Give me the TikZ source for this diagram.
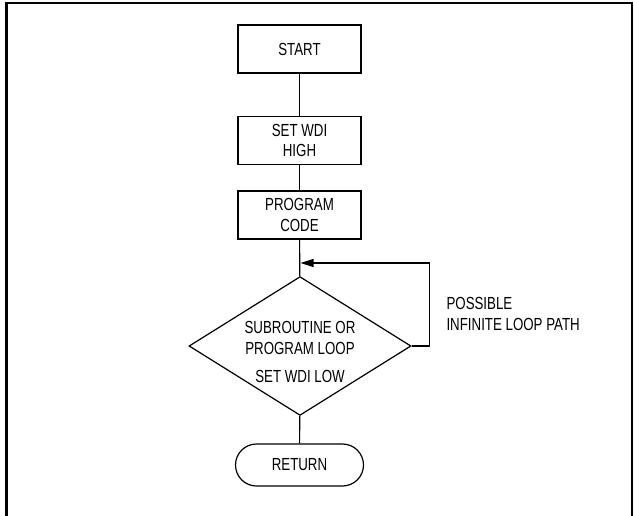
\documentclass[tikz,border=0pt]{standalone}
\usepackage{fontspec}
\setmainfont[FakeStretch=0.76]{Liberation Sans}
\usetikzlibrary{shapes.geometric,shapes.misc,arrows.meta}
\tikzset{
  stepbox/.style={draw, line width=1.2pt, minimum width=123pt, minimum height=48pt, inner sep=0pt, align=center},
  loopbox/.style={draw, diamond, line width=1.2pt, shape aspect=1.6, minimum width=221pt, minimum height=138pt, inner sep=0pt, align=center},
  endbox/.style={draw, rounded rectangle, line width=1.2pt, minimum width=128pt, minimum height=42pt, inner sep=0pt},
  flow/.style={line width=1.2pt}
}
\begin{document}
\begin{tikzpicture}[x=1pt, y=-1pt, font=\fontsize{17.5}{20.5}\selectfont]
		%%%%% START %%%%%
		\useasboundingbox (0, 0) rectangle (634, 516);
		
		\draw[line width=2.5pt] (6.5, 516) -- (6.5, 3) -- (632, 3) -- (632, 516);
		
		\node[stepbox] (start) at (299.5, 49) {START};
		\node[stepbox] (sethigh) at (299.5, 140.5) {SET WDI\\HIGH};
		\node[stepbox] (code) at (299.5, 215) {PROGRAM\\CODE};
		
		\node[loopbox] (loop) at (300, 346) {\raisebox{-8pt}[\height][\depth]{\begin{tabular}{@{}c@{}}SUBROUTINE OR\\PROGRAM LOOP\\[8pt]SET WDI LOW\end{tabular}}};
		
		\node[endbox] (return) at (299.5, 465) {RETURN};
		
		\coordinate (join) at (code.south |- 0, 263);
		
		\draw[flow] (start) -- (sethigh);
		\draw[flow] (sethigh) -- (code);
		\draw[flow] (code) -- (loop);
		\draw[flow] (loop) -- (return);
		
		\draw[flow, -{Triangle[length=13pt, width=8pt]}] (loop.east) -- ++(18, 0) |- ([xshift=1pt]join);
		
		\node[anchor=west, align=left] (pathnote) at (443, 314) {POSSIBLE\\INFINITE LOOP PATH};
		
		%%%%% END %%%%%
\end{tikzpicture}
\end{document}
